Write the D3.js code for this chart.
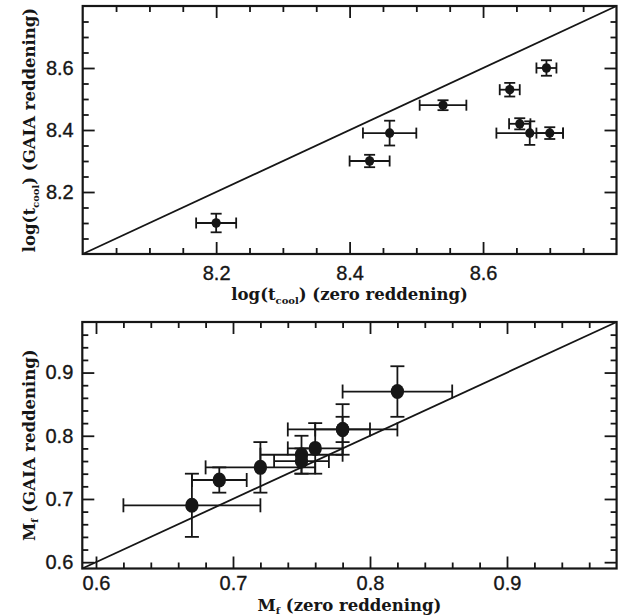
<!DOCTYPE html>
<html>
<head>
<meta charset="utf-8">
<script src="https://cdn.jsdelivr.net/npm/d3@7"></script>
<style>
  body { margin: 0; background: #fff; }
  svg { display: block; }
  .tick-label { font-family: "Liberation Sans", Arial, sans-serif; font-size: 20px; fill: #161616; stroke: #161616; stroke-width: 0.35px; }
  .title { font-family: "DejaVu Serif", serif; font-weight: bold; font-size: 16.5px; fill: #161616; }
</style>
</head>
<body>
<svg id="chart" width="628" height="615"></svg>
<script>
// Cooling ages, log(t_cool): zero reddening vs GAIA reddening
const ageZero     = [8.20, 8.43, 8.46, 8.54, 8.64, 8.695, 8.655, 8.67, 8.70];
const ageZeroErr  = [0.03, 0.03, 0.04, 0.035, 0.015, 0.015, 0.016, 0.05, 0.02];
const ageGaia     = [8.10, 8.30, 8.39, 8.48, 8.53, 8.60, 8.42, 8.39, 8.39];
const ageGaiaErr  = [0.03, 0.02, 0.04, 0.016, 0.022, 0.025, 0.018, 0.038, 0.019];

// Final masses M_f: zero reddening vs GAIA reddening
const massZero    = [0.67, 0.69, 0.72, 0.75, 0.75, 0.76, 0.78, 0.78, 0.82];
const massZeroErr = [0.05, 0.02, 0.04, 0.03, 0.02, 0.02, 0.04, 0.02, 0.04];
const massGaia    = [0.69, 0.73, 0.75, 0.77, 0.76, 0.78, 0.81, 0.81, 0.87];
const massGaiaErr = [0.05, 0.02, 0.04, 0.03, 0.02, 0.04, 0.04, 0.02, 0.04];

// Axis ranges and tick labels
const ageDomain = [8.0, 8.8];
const ageTicks = ["8.2", "8.4", "8.6"];
const ageMinorStep = 0.05;
const massDomain = [0.59, 0.98];
const massTicks = ["0.6", "0.7", "0.8", "0.9"];
const massMinorStep = 0.02;

const svg = d3.select("#chart");
const ink = "#161616";

function panel(cfg) {
  const x = d3.scaleLinear().domain(cfg.domain).range([cfg.left, cfg.right]);
  const y = d3.scaleLinear().domain(cfg.domain).range([cfg.bottom, cfg.top]);
  const g = svg.append("g");

  const majors = cfg.ticks.map(Number);
  const n = Math.round((cfg.domain[1] - cfg.domain[0]) / cfg.minor);
  const start = Math.ceil(cfg.domain[0] / cfg.minor - 1e-6);
  const minors = d3.range(start, start + n + 1)
    .map(k => +(k * cfg.minor).toFixed(4))
    .filter(v => v > cfg.domain[0] + 1e-6 && v < cfg.domain[1] - 1e-6)
    .filter(v => !majors.some(m => Math.abs(m - v) < 1e-6));

  const fmt = v => cfg.ticks[majors.findIndex(m => Math.abs(m - v) < 1e-6)];

  // inward ticks on all four sides
  const addAxis = (axis, tx, ty, values, size, labelled) => {
    const a = g.append("g").attr("transform", `translate(${tx},${ty})`)
      .call(axis.tickValues(values).tickSize(size).tickPadding(0)
        .tickFormat(labelled ? fmt : () => ""));
    a.select(".domain").remove();
    a.selectAll("line").attr("stroke", ink).attr("stroke-width", 1.8);
    a.selectAll("text").attr("class", "tick-label").attr("font-family", null).attr("font-size", null);
    return a;
  };
  const bx = cfg.bottom, lx = cfg.left;
  addAxis(d3.axisBottom(x), 0, bx, minors, -6, false);
  addAxis(d3.axisBottom(x), 0, bx, majors, -12, true).selectAll("text").attr("dy", null).attr("y", cfg.xLabelY);
  addAxis(d3.axisTop(x), 0, cfg.top, minors, -6, false);
  addAxis(d3.axisTop(x), 0, cfg.top, majors, -12, false);
  addAxis(d3.axisLeft(y), lx, 0, minors, -6, false);
  addAxis(d3.axisLeft(y), lx, 0, majors, -12, true).selectAll("text").attr("x", -cfg.yLabelGap);
  addAxis(d3.axisRight(y), cfg.right, 0, minors, -6, false);
  addAxis(d3.axisRight(y), cfg.right, 0, majors, -12, false);

  // one-to-one line
  g.append("line")
    .attr("x1", x(cfg.domain[0])).attr("y1", y(cfg.domain[0]))
    .attr("x2", x(cfg.domain[1])).attr("y2", y(cfg.domain[1]))
    .attr("stroke", ink).attr("stroke-width", 1.8);

  // error bars
  const pts = cfg.xs.map((v, i) => ({ x: v, y: cfg.ys[i], xe: cfg.xe[i], ye: cfg.ye[i] }));
  const eb = g.append("g").attr("stroke", ink).attr("stroke-width", 1.8).attr("fill", "none");
  pts.forEach(p => {
    const cx = x(p.x), cy = y(p.y);
    const x0 = x(p.x - p.xe), x1 = x(p.x + p.xe);
    const y0 = y(p.y - p.ye), y1 = y(p.y + p.ye);
    eb.append("line").attr("x1", x0).attr("x2", x1).attr("y1", cy).attr("y2", cy);
    eb.append("line").attr("x1", x0).attr("x2", x0).attr("y1", cy - cfg.cap).attr("y2", cy + cfg.cap);
    eb.append("line").attr("x1", x1).attr("x2", x1).attr("y1", cy - cfg.cap).attr("y2", cy + cfg.cap);
    eb.append("line").attr("x1", cx).attr("x2", cx).attr("y1", y0).attr("y2", y1);
    eb.append("line").attr("x1", cx - cfg.cap).attr("x2", cx + cfg.cap).attr("y1", y0).attr("y2", y0);
    eb.append("line").attr("x1", cx - cfg.cap).attr("x2", cx + cfg.cap).attr("y1", y1).attr("y2", y1);
  });

  g.append("g").selectAll("ellipse").data(pts).join("ellipse")
    .attr("cx", d => x(d.x)).attr("cy", d => y(d.y))
    .attr("rx", cfg.rx).attr("ry", cfg.ry).attr("fill", ink);

  // frame
  g.append("rect")
    .attr("x", cfg.left).attr("y", cfg.top)
    .attr("width", cfg.right - cfg.left).attr("height", cfg.bottom - cfg.top)
    .attr("fill", "none").attr("stroke", ink).attr("stroke-width", 2.2);

  // axis titles
  const cxm = (cfg.left + cfg.right) / 2, cym = (cfg.top + cfg.bottom) / 2;
  const xt = g.append("text").attr("class", "title").attr("text-anchor", "middle")
    .attr("x", cxm).attr("y", cfg.xTitleY);
  cfg.xTitle(xt);
  const yt = g.append("text").attr("class", "title").attr("text-anchor", "middle")
    .attr("transform", `translate(${cfg.yTitleX},${cym}) rotate(-90)`);
  cfg.yTitle(yt);
}

function logTitle(sel, rest) {
  sel.append("tspan").text("log(t");
  sel.append("tspan").attr("font-size", "10px").attr("dy", 4).text("cool");
  sel.append("tspan").attr("dy", -4).text(")  " + rest);
}
function massTitle(sel, rest) {
  sel.append("tspan").text("M");
  sel.append("tspan").attr("font-size", "10px").attr("dy", 3).text("f");
  sel.append("tspan").attr("dy", -3).text(" " + rest);
}

panel({
  left: 82.7, right: 616.5, top: 6, bottom: 254,
  domain: ageDomain, ticks: ageTicks, minor: ageMinorStep,
  xs: ageZero, xe: ageZeroErr, ys: ageGaia, ye: ageGaiaErr,
  rx: 4.6, ry: 4.8, cap: 5.5, xLabelY: 26, yLabelGap: 9,
  xTitleY: 300, yTitleX: 35,
  xTitle: s => logTitle(s, "(zero reddening)"),
  yTitle: s => logTitle(s, "(GAIA reddening)")
});

panel({
  left: 82.3, right: 616.6, top: 322, bottom: 568.5,
  domain: massDomain, ticks: massTicks, minor: massMinorStep,
  xs: massZero, xe: massZeroErr, ys: massGaia, ye: massGaiaErr,
  rx: 6.7, ry: 7.5, cap: 7, xLabelY: 21, yLabelGap: 9,
  xTitleY: 610.5, yTitleX: 35,
  xTitle: s => massTitle(s, "(zero reddening)"),
  yTitle: s => massTitle(s, "(GAIA reddening)")
});
</script>
</body>
</html>
